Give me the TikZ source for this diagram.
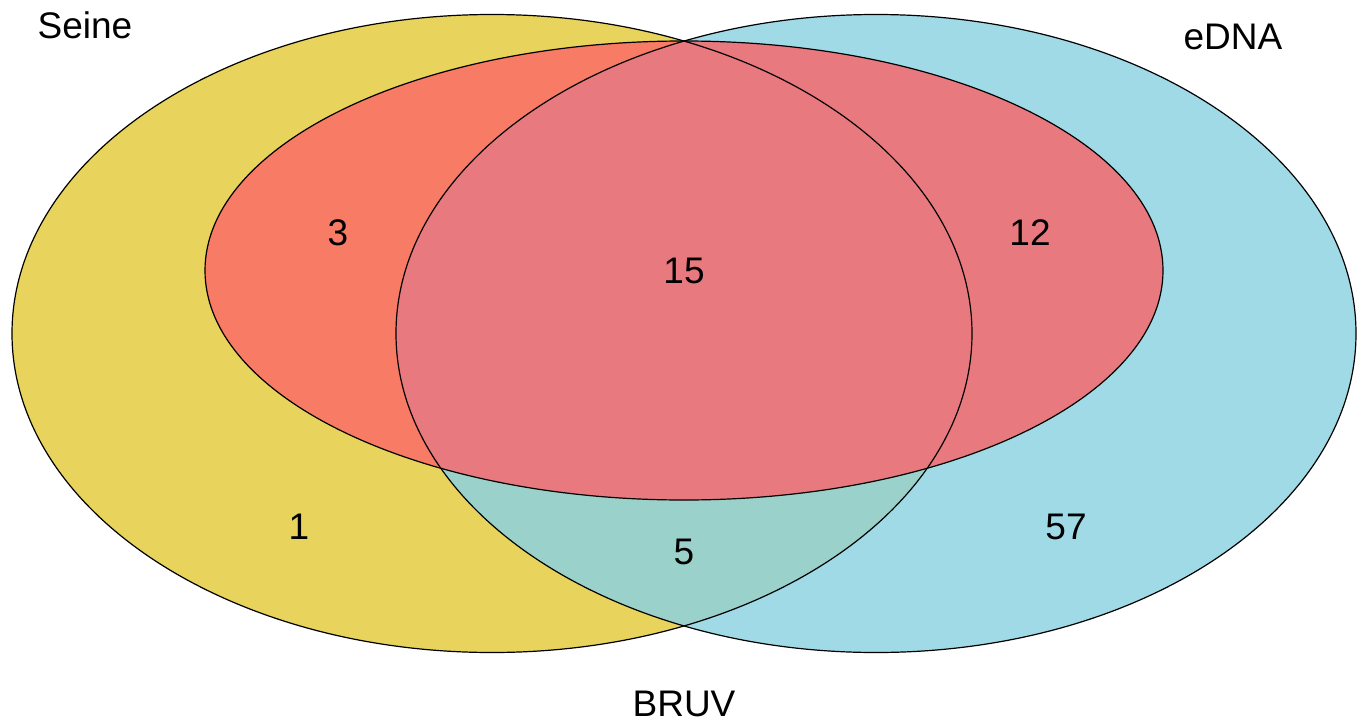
\documentclass[tikz,border=0pt]{standalone}
\usepackage{fontspec}
\setmainfont{Liberation Sans}
\definecolor{yellowc}{HTML}{E8D35C}
\definecolor{bluec}{HTML}{9FDAE6}
\definecolor{tealc}{HTML}{9AD1CA}
\definecolor{orangec}{HTML}{F77B65}
\definecolor{pinkc}{HTML}{E8797F}
\tikzset{
  lbl/.style={font=\fontsize{18.5}{22}\selectfont, inner sep=0pt, anchor=center},
  outline/.style={draw=black, line width=0.6pt}
}
\begin{document}
\begin{tikzpicture}[x=0.5pt,y=-0.5pt]
\useasboundingbox (0,0) rectangle (1361,723);
\def\seine{(492,333.5) ellipse [x radius=240pt, y radius=159.5pt]}
\def\edna{(876,333.5) ellipse [x radius=240pt, y radius=159.5pt]}
\def\bruv{(684,270.5) ellipse [x radius=239.5pt, y radius=114.75pt]}
\fill[yellowc] \seine;
\fill[bluec] \edna;
\begin{scope}
  \clip \seine;
  \fill[tealc] \edna;
\end{scope}
\fill[pinkc] \bruv;
\begin{scope}
  \clip \seine;
  \fill[orangec] \bruv;
\end{scope}
\begin{scope}
  \clip \edna;
  \fill[pinkc] \bruv;
\end{scope}
\draw[outline] \seine;
\draw[outline] \edna;
\draw[outline] \bruv;
\node[lbl] (seine) at (85,25) {Seine};
\node[lbl] (edna) at (1233,37) {eDNA};
\node[lbl] (bruv) at (684,704) {BRUV};
\node[lbl] (n3) at (338,233) {3};
\node[lbl] (n15) at (684,271) {15};
\node[lbl] (n12) at (1030,233) {12};
\node[lbl] (n1) at (299,527) {1};
\node[lbl] (n5) at (684,552) {5};
\node[lbl] (n57) at (1066,527) {57};
\end{tikzpicture}
\end{document}
